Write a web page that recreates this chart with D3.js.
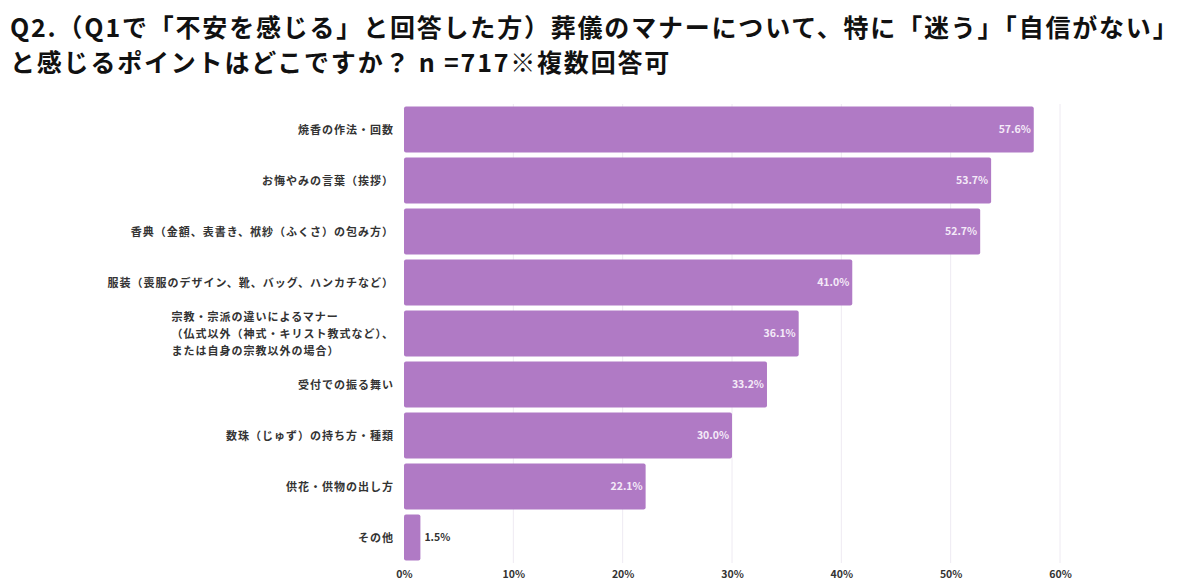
<!DOCTYPE html>
<html>
<head>
<meta charset="utf-8">
<script src="https://cdn.jsdelivr.net/npm/d3@7"></script>
<style>
  body { margin: 0; background: #fff; }
  svg text { font-family: "Noto Sans CJK JP", "Noto Sans", sans-serif; }
</style>
</head>
<body>
<div id="chart"></div>
<script>
var titleLines = [
  "Q2.（Q1で「不安を感じる」と回答した方）葬儀のマナーについて、特に「迷う」「自信がない」",
  "と感じるポイントはどこですか？ n =717※複数回答可"
];

var categories = [
  ["焼香の作法・回数"],
  ["お悔やみの言葉（挨拶）"],
  ["香典（金額、表書き、袱紗（ふくさ）の包み方）"],
  ["服装（喪服のデザイン、靴、バッグ、ハンカチなど）"],
  ["宗教・宗派の違いによるマナー", "（仏式以外（神式・キリスト教式など）、", "または自身の宗教以外の場合）"],
  ["受付での振る舞い"],
  ["数珠（じゅず）の持ち方・種類"],
  ["供花・供物の出し方"],
  ["その他"]
];
var values = [57.6, 53.7, 52.7, 41.0, 36.1, 33.2, 30.0, 22.1, 1.5];
var ticks = [0, 10, 20, 30, 40, 50, 60];

var W = 1200, H = 588;
var m = {left: 404, right: 140, top: 104, bottom: 25};

var svg = d3.select("#chart").append("svg")
  .attr("width", W).attr("height", H);

// title
svg.append("g").selectAll("text")
  .data(titleLines).enter()
  .append("text")
  .attr("x", 10)
  .attr("y", function(d, i){ return 37 + i * 35; })
  .attr("font-size", "25px")
  .attr("font-weight", "bold")
  .attr("letter-spacing", "1.8px")
  .attr("fill", "#111")
  .text(function(d){ return d; });

var x = d3.scaleLinear().domain([0, 60]).range([m.left, W - m.right]);
var y = d3.scaleBand().domain(d3.range(values.length))
  .range([m.top, H - m.bottom]).paddingInner(0.1).paddingOuter(0.05);

// grid
svg.append("g").selectAll("line")
  .data(ticks.slice(1)).enter()
  .append("line")
  .attr("x1", function(d){ return x(d); })
  .attr("x2", function(d){ return x(d); })
  .attr("y1", m.top)
  .attr("y2", H - m.bottom)
  .attr("stroke", "#eeeaf2")
  .attr("stroke-width", 1);

// tick labels
var xAxis = svg.append("g")
  .attr("transform", "translate(0," + (H - m.bottom) + ")")
  .call(d3.axisBottom(x).tickValues(ticks).tickSize(0).tickPadding(8)
    .tickFormat(function(d){ return d + "%"; }));
xAxis.select(".domain").remove();
xAxis.selectAll("text")
  .attr("font-size", "10.5px")
  .attr("font-weight", "bold")
  .attr("fill", "#333")
  .style("font-family", "\"Noto Sans CJK JP\", sans-serif");

// bars
svg.append("g").selectAll("rect")
  .data(values).enter()
  .append("rect")
  .attr("x", x(0))
  .attr("y", function(d, i){ return y(i); })
  .attr("width", function(d){ return x(d) - x(0); })
  .attr("height", y.bandwidth())
  .attr("rx", 2)
  .attr("fill", "#b07ac5");

// value labels
svg.append("g").selectAll("text")
  .data(values).enter()
  .append("text")
  .attr("x", function(d){ return d < 5 ? x(d) + 4 : x(d) - 3; })
  .attr("y", function(d, i){ return y(i) + y.bandwidth() / 2; })
  .attr("dy", "0.35em")
  .attr("text-anchor", function(d){ return d < 5 ? "start" : "end"; })
  .attr("font-size", "10.5px")
  .attr("font-weight", "bold")
  .attr("fill", function(d){ return d < 5 ? "#333" : "#f4eaf8"; })
  .text(function(d){ return d.toFixed(1) + "%"; });

// category labels (multi-line ones are left-aligned as a block ending at the right edge)
var labelRight = 394, lineH = 17;
var lab = svg.append("g").selectAll("text")
  .data(categories).enter()
  .append("text")
  .attr("font-size", "11px")
  .attr("font-weight", "bold")
  .attr("letter-spacing", "1px")
  .attr("fill", "#333")
  .attr("y", function(d, i){ return y(i) + y.bandwidth() / 2; });

lab.each(function(lines){
  var t = d3.select(this);
  var n = lines.length;
  var spans = lines.map(function(s, k){
    return t.append("tspan")
      .attr("dy", k === 0 ? (-(n - 1) * lineH / 2 + 4) : lineH)
      .text(s);
  });
  var maxW = d3.max(spans, function(sp){ return sp.node().getComputedTextLength(); });
  spans.forEach(function(sp){
    sp.attr("x", n > 1 ? labelRight - maxW : labelRight - sp.node().getComputedTextLength());
  });
});
</script>
</body>
</html>
